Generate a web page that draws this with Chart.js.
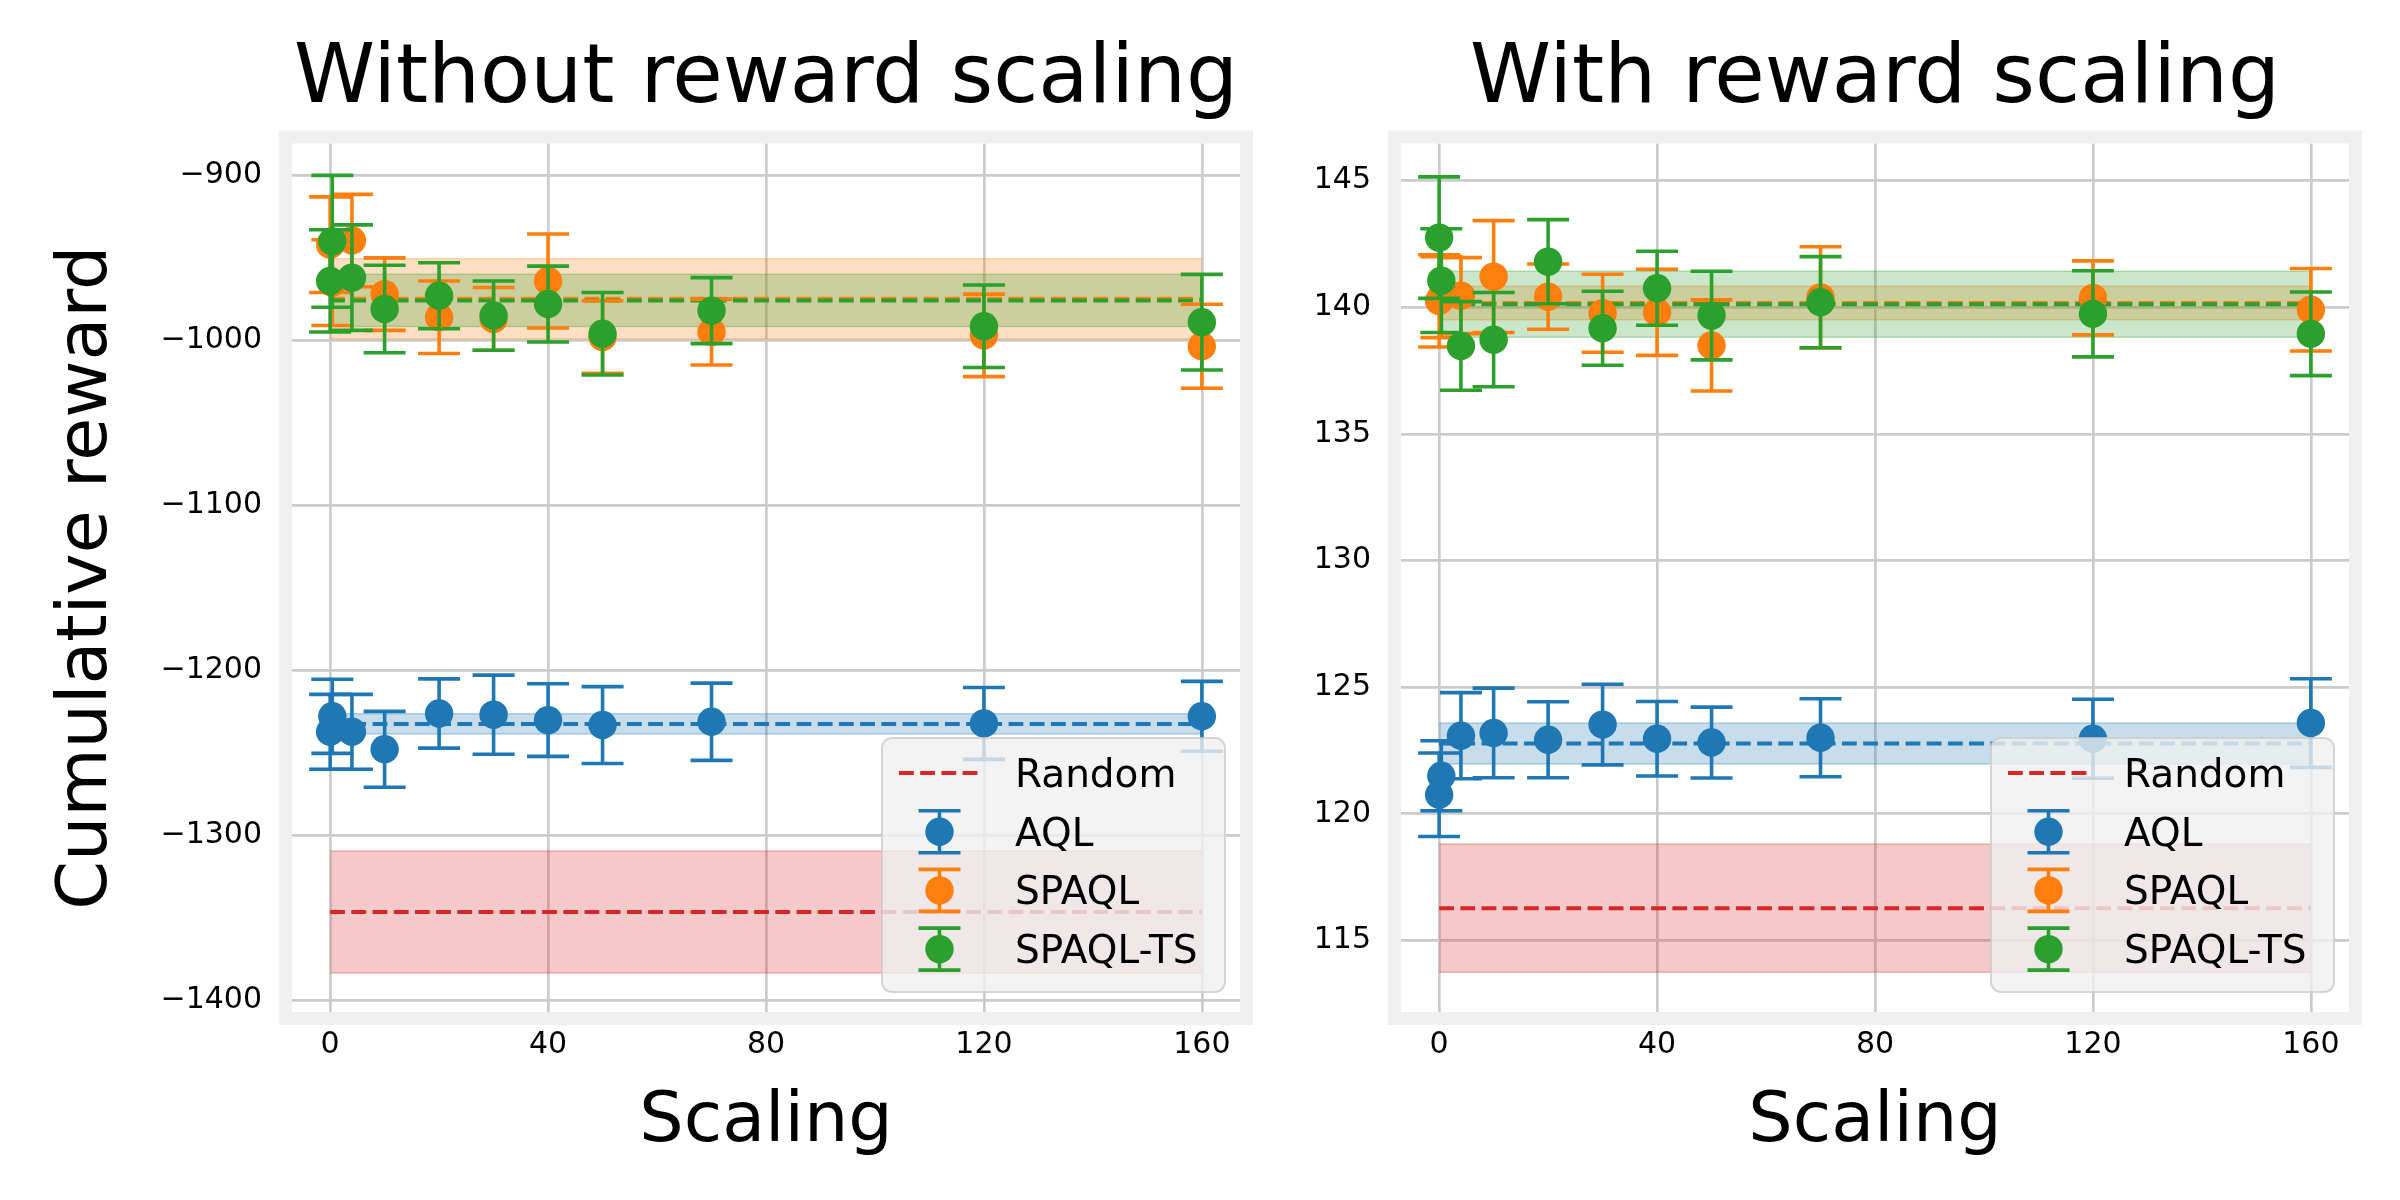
<!DOCTYPE html>
<html><head><meta charset="utf-8">
<script src="https://cdn.jsdelivr.net/npm/chart.js@4.4.1/dist/chart.umd.min.js"></script>
<style>
html,body{margin:0;padding:0;background:#fff;}
#c1{position:absolute;left:0;top:0;}
#c2{position:absolute;left:1280px;top:0;}
</style></head><body>
<canvas id="c1" width="1280" height="1200"></canvas>
<canvas id="c2" width="1120" height="1200"></canvas>
<script>
// ---------- data ----------
const scalingX = [0, 0.4, 4, 10, 20, 30, 40, 50, 70, 120, 160];
const xTicks = [0, 40, 80, 120, 160];
const noScaleYTicks = [-900, -1000, -1100, -1200, -1300, -1400];
const withScaleYTicks = [115, 120, 125, 130, 135, 140, 145];

const seriesNames = ['Random', 'AQL', 'SPAQL', 'SPAQL-TS'];
const seriesColors = ['#d62728', '#1f77b4', '#ff7f0e', '#2ca02c'];
const bandX = [0, 160];

// Without reward scaling
const noScaleAQL = [-1237.4, -1228, -1237.4, -1248, -1226.3, -1227, -1230.3, -1233.3, -1231.3, -1232.3, -1228];
const noScaleAQLErr = [22.7, 22.5, 22.7, 23, 21, 24, 22, 23.3, 23.4, 21.8, 21.2];
const noScaleSPAQL = [-942, -965, -939.5, -972, -986, -987, -964, -998, -995, -997, -1003.6];
const noScaleSPAQLErr = [29, 26, 28, 22, 22, 19, 28.5, 22, 20, 25, 25.5];
const noScaleTS = [-964, -940, -962, -981, -973, -985, -978, -996, -982, -991.5, -989];
const noScaleTSErr = [31, 40, 32, 26.5, 20, 21, 23, 25, 20, 25, 29];
const noScaleBandMean = [-1346.7, -1232.6, -974.8, -975.8];
const noScaleBandStd = [37, 6.2, 24.2, 15.8];

// With reward scaling
const withScaleAQL = [120.75, 121.5, 123.08, 123.19, 122.92, 123.52, 122.96, 122.81, 123.0, 122.96, 123.58];
const withScaleAQLErr = [1.65, 1.38, 1.7, 1.77, 1.5, 1.59, 1.47, 1.4, 1.54, 1.56, 1.75];
const withScaleSPAQL = [140.25, 140.4, 140.46, 141.21, 140.42, 139.76, 139.8, 138.49, 140.39, 140.37, 139.9];
const withScaleSPAQLErr = [1.82, 1.6, 1.5, 2.21, 1.29, 1.54, 1.7, 1.8, 2.0, 1.46, 1.63];
const withScaleTS = [142.75, 141.05, 138.47, 138.72, 141.8, 139.17, 140.75, 139.67, 140.2, 139.74, 138.95];
const withScaleTSErr = [2.4, 2.05, 1.75, 1.86, 1.66, 1.46, 1.46, 1.75, 1.8, 1.7, 1.65];
const withScaleBandMean = [116.27, 122.77, 140.17, 140.12];
const withScaleBandStd = [2.53, 0.81, 0.66, 1.3];

// ---------- helpers ----------
const FONT = 'DejaVu Sans';
function fmt(v) { return v < 0 ? '\u2212' + Math.abs(v) : String(v); }
function rgba(hex, a) {
  const n = parseInt(hex.slice(1), 16);
  return `rgba(${n >> 16},${(n >> 8) & 255},${n & 255},${a})`;
}
const ERR_LW = 3.6, CAP = 21, DOT_R = 14.2, DASH = [14.8, 6.4];

function buildDatasets(series, errs, bandMean, bandStd) {
  const ds = [];
  seriesNames.forEach((name, i) => {
    const c = seriesColors[i];
    ds.push({ type: 'line', data: bandX.map(x => ({ x, y: bandMean[i] + bandStd[i] })),
      borderColor: rgba(c, 0.3), borderWidth: 1.5, backgroundColor: rgba(c, 0.25),
      fill: '+1', pointRadius: 0, order: 100 - i * 2 });
    ds.push({ type: 'line', data: bandX.map(x => ({ x, y: bandMean[i] - bandStd[i] })),
      borderColor: rgba(c, 0.3), borderWidth: 1.5, backgroundColor: 'rgba(0,0,0,0)',
      fill: false, pointRadius: 0, order: 99 - i * 2 });
  });
  seriesNames.forEach((name, i) => {
    ds.push({ type: 'line', data: bandX.map(x => ({ x, y: bandMean[i] })),
      borderColor: seriesColors[i], borderWidth: 4, borderDash: DASH, fill: false,
      pointRadius: 0, order: 50 - i });
  });
  series.forEach((vals, k) => {
    const c = seriesColors[k + 1];
    ds.push({ type: 'scatter', label: seriesNames[k + 1],
      data: scalingX.map((x, j) => ({ x, y: vals[j] })), errors: errs[k],
      backgroundColor: c, pointBackgroundColor: c, pointBorderWidth: 0,
      pointRadius: DOT_R, showLine: false, order: 20 - k });
  });
  return ds;
}

const errorBarPlugin = {
  id: 'errorBars',
  beforeDatasetDraw(chart, args) {
    const ds = chart.data.datasets[args.index];
    if (!ds.errors) return;
    const { ctx, chartArea: ca, scales: { x, y } } = chart;
    ctx.save();
    ctx.beginPath(); ctx.rect(ca.left, ca.top, ca.right - ca.left, ca.bottom - ca.top); ctx.clip();
    ctx.strokeStyle = ds.backgroundColor; ctx.lineWidth = ERR_LW; ctx.lineCap = 'butt';
    ds.data.forEach((p, j) => {
      const px = x.getPixelForValue(p.x);
      const y1 = y.getPixelForValue(p.y + ds.errors[j]);
      const y2 = y.getPixelForValue(p.y - ds.errors[j]);
      ctx.beginPath();
      ctx.moveTo(px, y1); ctx.lineTo(px, y2);
      ctx.moveTo(px - CAP, y1); ctx.lineTo(px + CAP, y1);
      ctx.moveTo(px - CAP, y2); ctx.lineTo(px + CAP, y2);
      ctx.stroke();
    });
    ctx.restore();
  }
};

const framePlugin = {
  id: 'frame',
  afterDatasetsDraw(chart) {
    const { ctx, chartArea: ca } = chart;
    ctx.save();
    ctx.strokeStyle = '#f0f0f0'; ctx.lineWidth = 13;
    ctx.strokeRect(ca.left - 6.5, ca.top - 6.5, ca.right - ca.left + 13, ca.bottom - ca.top + 13);
    ctx.restore();
  }
};

const legendPlugin = {
  id: 'customLegend',
  afterDraw(chart, args, opts) {
    const { ctx, chartArea: ca } = chart;
    const w = 343, h = 254;
    const right = ca.right - opts.insetX, bottom = ca.bottom - opts.insetY;
    const left = right - w, top = bottom - h;
    ctx.save();
    ctx.beginPath();
    ctx.roundRect(left, top, w, h, 10);
    ctx.fillStyle = 'rgba(240,240,240,0.8)'; ctx.fill();
    ctx.strokeStyle = 'rgba(204,204,204,0.8)'; ctx.lineWidth = 2; ctx.stroke();
    seriesNames.forEach((lab, i) => {
      const cy = top + 35 + i * 58.7;
      const c = seriesColors[i];
      const hx0 = left + 17, hx1 = left + 98, hc = (hx0 + hx1) / 2;
      if (i === 0) {
        ctx.beginPath(); ctx.setLineDash(DASH); ctx.strokeStyle = c; ctx.lineWidth = 4;
        ctx.moveTo(hx0, cy); ctx.lineTo(hx1, cy); ctx.stroke(); ctx.setLineDash([]);
      } else {
        ctx.strokeStyle = c; ctx.lineWidth = ERR_LW;
        ctx.beginPath();
        ctx.moveTo(hc, cy - 21); ctx.lineTo(hc, cy + 21);
        ctx.moveTo(hc - 21, cy - 21); ctx.lineTo(hc + 21, cy - 21);
        ctx.moveTo(hc - 21, cy + 21); ctx.lineTo(hc + 21, cy + 21);
        ctx.stroke();
        ctx.beginPath(); ctx.fillStyle = c; ctx.arc(hc, cy, DOT_R, 0, Math.PI * 2); ctx.fill();
      }
      ctx.fillStyle = '#000'; ctx.font = `39px "${FONT}"`; ctx.textBaseline = 'alphabetic'; ctx.textAlign = 'left';
      ctx.fillText(lab, left + 133, cy + 14);
    });
    ctx.restore();
  }
};

function makeChart(id, cfg) {
  return new Chart(document.getElementById(id), {
    type: 'scatter',
    data: { datasets: buildDatasets(cfg.series, cfg.errs, cfg.bandMean, cfg.bandStd) },
    plugins: [errorBarPlugin, framePlugin, legendPlugin],
    options: {
      responsive: false, animation: false, events: [],
      layout: { padding: { left: 0, right: cfg.padRight, top: 0, bottom: 0 } },
      plugins: {
        legend: { display: false }, tooltip: { enabled: false },
        title: { display: true, fullSize: false, text: cfg.title, color: '#000',
          font: { family: FONT, size: 82, weight: 'normal' }, padding: { top: 32, bottom: 13 } },
        customLegend: { insetX: 15, insetY: 20 }
      },
      scales: {
        x: { type: 'linear', min: -7, max: 167,
          afterBuildTicks(s) { s.ticks = xTicks.map(v => ({ value: v })); },
          afterFit(s) { s.height = 188; },
          grid: { color: '#cbcbcb', lineWidth: 2.7, drawTicks: false },
          border: { display: false },
          ticks: { color: '#000', font: { family: FONT, size: 30 }, padding: 15, callback: fmt, maxRotation: 0 },
          title: { display: true, text: 'Scaling', color: '#000', font: { family: FONT, size: 70 }, padding: { bottom: 35, top: 0 } }
        },
        y: { type: 'linear', min: cfg.yMin, max: cfg.yMax,
          afterBuildTicks(s) { s.ticks = cfg.yTicks.map(v => ({ value: v })); },
          afterFit(s) { s.width = cfg.yWidth; },
          grid: { color: '#cbcbcb', lineWidth: 2.7, drawTicks: false },
          border: { display: false },
          ticks: { color: '#000', font: { family: FONT, size: 30 }, padding: 30, callback: fmt },
          title: { display: !!cfg.yTitle, text: cfg.yTitle || '', color: '#000', font: { family: FONT, size: 70 }, padding: { top: 46, bottom: 0 } }
        }
      }
    }
  });
}

makeChart('c1', {
  title: 'Without reward scaling', yTitle: 'Cumulative reward',
  series: [noScaleAQL, noScaleSPAQL, noScaleTS], errs: [noScaleAQLErr, noScaleSPAQLErr, noScaleTSErr],
  bandMean: noScaleBandMean, bandStd: noScaleBandStd,
  yMin: -1407.3, yMax: -880.6, yTicks: noScaleYTicks, yWidth: 292, padRight: 40
});
makeChart('c2', {
  title: 'With reward scaling', yTitle: null,
  series: [withScaleAQL, withScaleSPAQL, withScaleTS], errs: [withScaleAQLErr, withScaleSPAQLErr, withScaleTSErr],
  bandMean: withScaleBandMean, bandStd: withScaleBandStd,
  yMin: 112.17, yMax: 146.47, yTicks: withScaleYTicks, yWidth: 121, padRight: 51
});
</script>
</body></html>
